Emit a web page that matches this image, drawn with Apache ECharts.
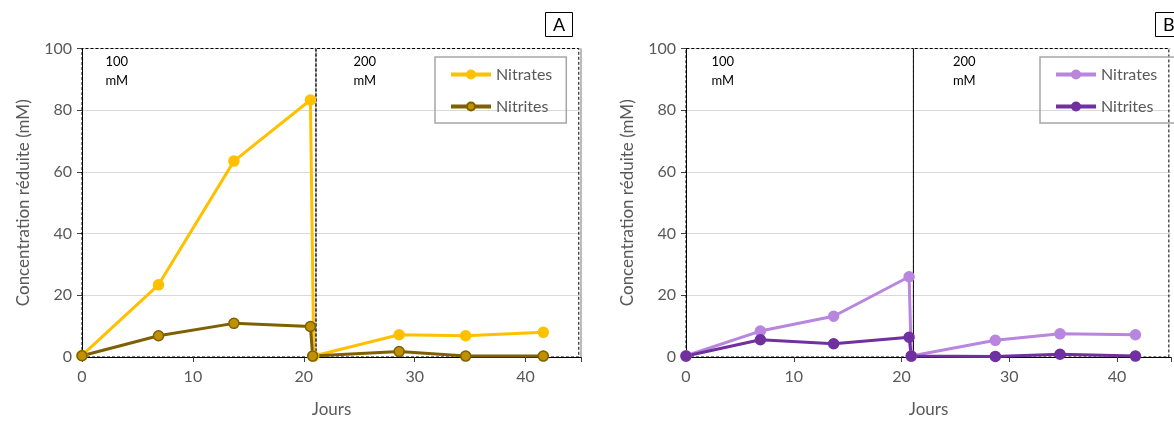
<!DOCTYPE html>
<html><head><meta charset="utf-8">
<script src="https://cdn.jsdelivr.net/npm/echarts@6/dist/echarts.min.js"></script>
<style>html,body{margin:0;padding:0;background:#fff}#c{width:1174px;height:423px}</style>
</head><body><div id="c"></div>
<script>
const daysNitratesA = [0, 6.9, 13.7, 20.6, 20.9, 28.6, 34.6, 41.6];
const nitratesA     = [0.5, 23.4, 63.5, 83.3, 0.3, 7.2, 6.9, 8.0];
const daysNitritesA = [0, 6.9, 13.7, 20.6, 20.8, 28.6, 34.6, 41.6];
const nitritesA     = [0.4, 6.9, 10.9, 9.9, 0.3, 1.8, 0.3, 0.3];

const daysNitratesB = [0, 6.9, 13.7, 20.7, 20.9, 28.7, 34.7, 41.7];
const nitratesB     = [0.4, 8.4, 13.2, 26.0, 0.3, 5.4, 7.5, 7.2];
const daysNitritesB = [0, 6.9, 13.7, 20.7, 20.9, 28.7, 34.7, 41.7];
const nitritesB     = [0.3, 5.6, 4.3, 6.4, 0.3, 0.2, 0.9, 0.3];

const seriesNames = ['Nitrates', 'Nitrites'];
const phaseLabels = ['100\nmM', '200\nmM'];
const phaseBounds = [-0.25, 21.1, 44.8];
const panelLetters = ['A', 'B'];

const FONT = 'Lato, "Open Sans", sans-serif';
const gray = '#595959';

function pairs(xs, ys) { return xs.map((x, i) => [x, ys[i]]); }

const grids = [
  {left: 82, right: 593, top: 48.5, bottom: 63},
  {left: 686, right: -12, top: 48.5, bottom: 63}
];

function xAxisFor(i) {
  return {
    type: 'value', gridIndex: i, min: 0, max: 45, splitNumber: 5,
    name: 'Jours', nameLocation: 'middle', nameGap: 44,
    nameTextStyle: {fontFamily: FONT, fontSize: 17, color: gray},
    axisLine: {show: true, onZero: false, lineStyle: {color: '#000', width: 1}},
    axisTick: {show: true, length: 5, lineStyle: {color: '#404040'}},
    axisLabel: {fontFamily: FONT, fontSize: 16, color: gray, margin: 12,
      formatter: v => (v % 10 === 0 && v <= 40) ? String(v) : ''},
    splitLine: {show: false}
  };
}
function yAxisFor(i) {
  return {
    type: 'value', gridIndex: i, min: 0, max: 100, interval: 20,
    name: 'Concentration réduite (mM)', nameLocation: 'middle', nameGap: 50,
    nameTextStyle: {fontFamily: FONT, fontSize: 17, color: gray},
    axisLine: {show: true, lineStyle: {color: '#000', width: 1}},
    axisTick: {show: true, length: 5, lineStyle: {color: '#404040'}},
    axisLabel: {fontFamily: FONT, fontSize: 16, color: gray, margin: 10},
    splitLine: {show: true, lineStyle: {color: '#D9D9D9', width: 1}}
  };
}

function boxes(labelOffsets) {
  return {
    silent: true,
    itemStyle: {color: 'rgba(0,0,0,0)', borderColor: '#000', borderWidth: 1, borderType: [3, 2]},
    label: {show: true, fontFamily: FONT, fontSize: 13, color: '#000', lineHeight: 19, align: 'left', verticalAlign: 'top'},
    data: [
      [{xAxis: phaseBounds[0], yAxis: 0, label: {position: [labelOffsets[0], 4], formatter: phaseLabels[0]}}, {xAxis: phaseBounds[1], yAxis: 100}],
      [{xAxis: phaseBounds[1], yAxis: 0, label: {position: [labelOffsets[1], 4], formatter: phaseLabels[1]}}, {xAxis: phaseBounds[2], yAxis: 100}]
    ]
  };
}

function lineSeries(name, gi, data, lineColor, fill, border, extra) {
  return Object.assign({
    name: name, type: 'line', xAxisIndex: gi, yAxisIndex: gi, data: data,
    symbol: 'circle', symbolSize: 10, clip: false,
    lineStyle: {color: lineColor, width: 3},
    itemStyle: {color: fill, borderColor: border, borderWidth: 1.5},
    emphasis: {disabled: true}, animation: false
  }, extra || {});
}

const legendBase = {
  orient: 'vertical', itemGap: 13, itemWidth: 40, itemHeight: 10,
  borderColor: '#A6A6A6', borderWidth: 1.5,
  lineStyle: {width: 4},
  textStyle: {fontFamily: FONT, fontSize: 16, color: gray, lineHeight: 19},
  selectedMode: false
};

const option = {
  animation: false,
  textStyle: {fontFamily: FONT},
  title: panelLetters.map((t, i) => ({
    text: t, left: i === 0 ? 545 : 1155, top: 12,
    padding: i === 0 ? [4, 8, 3, 8] : [4, 20, 3, 8], borderColor: '#000', borderWidth: 1,
    textStyle: {fontFamily: FONT, fontSize: 18, fontWeight: 'normal', color: '#000'}
  })),
  legend: [
    Object.assign({}, legendBase, {data: ['Nitrates', 'Nitrites'], left: 435, top: 57, padding: [8, 14, 7, 14]}),
    Object.assign({}, legendBase, {data: ['Nitrates ', 'Nitrites '], left: 1040, top: 57, padding: [8, 40, 7, 14]})
  ],
  grid: grids,
  xAxis: [xAxisFor(0), xAxisFor(1)],
  yAxis: [yAxisFor(0), yAxisFor(1)],
  series: [
    lineSeries(seriesNames[0], 0, pairs(daysNitratesA, nitratesA), '#FFC000', '#FFC000', '#FFC000',
      {markArea: boxes([24, 38]),
       markLine: {silent: true, symbol: 'none', label: {show: false},
         lineStyle: {color: '#A6A6A6', type: 'solid', width: 1.5}, data: [{xAxis: 45}]}}),
    lineSeries(seriesNames[1], 0, pairs(daysNitritesA, nitritesA), '#7F6000', '#BF9000', '#7F6000'),
    lineSeries(seriesNames[0] + ' ', 1, pairs(daysNitratesB, nitratesB), '#B886DE', '#B886DE', '#B886DE',
      {markArea: boxes([26, 40])}),
    lineSeries(seriesNames[1] + ' ', 1, pairs(daysNitritesB, nitritesB), '#7030A0', '#7030A0', '#7030A0')
  ]
};
const chart = echarts.init(document.getElementById('c'), null, {renderer: 'canvas'});
chart.setOption(option);
</script>
</body></html>
